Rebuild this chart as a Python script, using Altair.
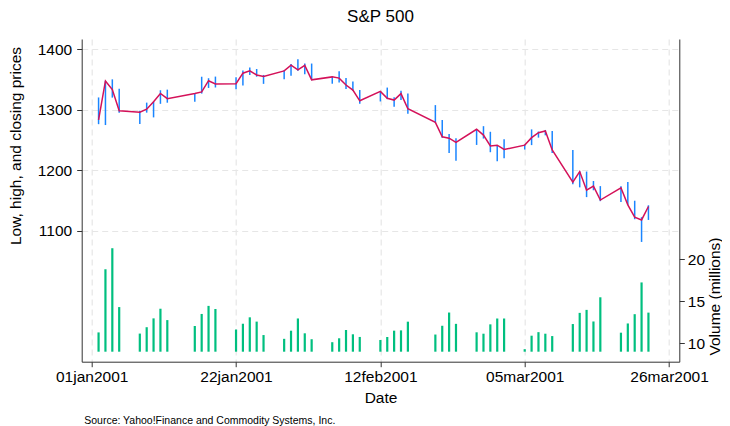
import altair as alt
import pandas as pd

dates = ["2001-01-02", "2001-01-03", "2001-01-04", "2001-01-05", "2001-01-08", "2001-01-09",
         "2001-01-10", "2001-01-11", "2001-01-12", "2001-01-16", "2001-01-17", "2001-01-18",
         "2001-01-19", "2001-01-22", "2001-01-23", "2001-01-24", "2001-01-25", "2001-01-26",
         "2001-01-29", "2001-01-30", "2001-01-31", "2001-02-01", "2001-02-02", "2001-02-05",
         "2001-02-06", "2001-02-07", "2001-02-08", "2001-02-09", "2001-02-12", "2001-02-13",
         "2001-02-14", "2001-02-15", "2001-02-16", "2001-02-20", "2001-02-21", "2001-02-22",
         "2001-02-23", "2001-02-26", "2001-02-27", "2001-02-28", "2001-03-01", "2001-03-02",
         "2001-03-05", "2001-03-06", "2001-03-07", "2001-03-08", "2001-03-09", "2001-03-12",
         "2001-03-13", "2001-03-14", "2001-03-15", "2001-03-16", "2001-03-19", "2001-03-20",
         "2001-03-21", "2001-03-22", "2001-03-23"]

high = [1320.28, 1347.76, 1350.24, 1334.77, 1298.35, 1311.72, 1313.27, 1332.19, 1333.21,
        1327.81, 1354.55, 1352.07, 1354.79, 1353.62, 1364.83, 1369.75, 1367.35, 1357.51,
        1365.54, 1375.68, 1383.37, 1376.38, 1376.38, 1354.49, 1363.55, 1352.26, 1346.62,
        1332.53, 1330.31, 1336.62, 1320.73, 1331.29, 1326.61, 1307.61, 1282.77, 1259.94,
        1252.82, 1267.65, 1272.76, 1263.47, 1241.71, 1251.01, 1242.55, 1267.42, 1263.86,
        1266.50, 1264.74, 1233.42, 1197.83, 1197.66, 1182.04, 1173.56, 1173.50, 1180.56,
        1149.39, 1122.14, 1141.83]

low = [1276.05, 1274.62, 1320.00, 1294.95, 1276.29, 1295.14, 1287.28, 1309.72, 1311.59,
       1313.33, 1326.65, 1336.00, 1336.74, 1333.84, 1340.02, 1357.28, 1354.63, 1342.75,
       1350.36, 1356.20, 1364.66, 1358.53, 1348.72, 1343.00, 1345.00, 1334.26, 1330.81,
       1309.98, 1313.64, 1317.51, 1304.72, 1315.93, 1293.18, 1278.44, 1253.79, 1228.33,
       1215.44, 1241.71, 1252.26, 1229.65, 1214.50, 1219.74, 1234.04, 1241.41, 1253.80,
       1257.60, 1228.42, 1176.78, 1171.50, 1155.35, 1166.71, 1148.64, 1147.18, 1142.19,
       1118.74, 1081.19, 1117.58]

close = [1283.27, 1347.56, 1333.34, 1298.35, 1295.86, 1300.80, 1313.27, 1326.82, 1318.32,
         1326.65, 1329.47, 1347.97, 1342.54, 1342.90, 1360.40, 1364.30, 1357.51, 1354.95,
         1364.17, 1373.73, 1366.01, 1373.47, 1349.47, 1354.31, 1352.26, 1340.89, 1332.53,
         1314.76, 1330.31, 1318.80, 1315.92, 1326.61, 1301.53, 1278.94, 1255.27, 1252.82,
         1245.86, 1267.65, 1257.94, 1239.94, 1241.23, 1234.18, 1241.41, 1253.80, 1261.89,
         1264.74, 1233.42, 1180.16, 1197.66, 1166.71, 1173.56, 1150.53, 1170.81, 1142.62,
         1122.14, 1117.58, 1139.83]

volume = [11.294, 18.807, 21.310, 14.308, 11.155, 11.913, 12.965, 14.112, 12.760,
          12.057, 13.491, 14.450, 14.078, 11.640, 12.326, 13.090, 12.580, 10.980,
          10.531, 11.498, 12.953, 11.188, 10.484, 10.130, 10.596, 11.583, 11.072,
          10.755, 10.391, 10.752, 11.503, 11.537, 12.572, 11.042, 12.085, 13.659,
          12.313, 11.308, 11.141, 12.253, 12.948, 12.949, 9.298, 10.904, 11.325,
          11.141, 10.859, 12.290, 13.619, 13.974, 12.595, 15.473, 11.262, 12.359,
          13.463, 17.240, 13.649]

volume_base = 9
tick_dates = ["2001-01-01", "2001-01-22", "2001-02-12", "2001-03-05", "2001-03-26"]
title_text = "S&P 500"
note = "Source: Yahoo!Finance and Commodity Systems, Inc."

df = pd.DataFrame({"date": dates, "high": high, "low": low, "close": close,
                   "volume": volume, "base": [volume_base] * len(dates)})

DAY = 86400000
t0 = int(pd.Timestamp("2001-01-01", tz="UTC").value // 10**6)
tick_ms = [int(pd.Timestamp(d, tz="UTC").value // 10**6) for d in tick_dates]
x_domain = [t0 - 1.455 * DAY, t0 + 85.49 * DAY]

FONT = "Liberation Sans"
BLUE = "#1a85ff"
RED = "#d41159"
GREEN = "#00bf7f"
AXC = "#333333"
GRIDC = "#e6e6e6"
W, H = 597.6, 322.7

xenc = alt.X("date:T", scale=alt.Scale(type="utc", domain=x_domain),
             axis=alt.Axis(values=tick_ms,
                           labelExpr="lower(utcFormat(datum.value, '%d%b%Y'))",
                           title="Date", grid=True, gridDash=[6, 4], gridColor=GRIDC,
                           gridWidth=1.2, tickSize=5, labelPadding=3,
                           titleY=40.5, titleBaseline="alphabetic",
                           labelFlush=False))

yprice = alt.Y("high:Q", scale=alt.Scale(domain=[883, 1417], nice=False, zero=False),
               axis=alt.Axis(orient="left", values=[1100, 1200, 1300, 1400], format="d",
                             title="Low, high, and closing prices", grid=True,
                             gridDash=[6, 4], gridColor=GRIDC, gridWidth=1.2,
                             tickSize=5, labelPadding=5,
                             titleAngle=270, titleX=-66.5, titleY=106.5,
                             titleAlign="center", titleBaseline="middle"))

spikes = alt.Chart(df).mark_rule(color=BLUE, strokeWidth=1.5).encode(
    x=xenc, y=yprice, y2="low:Q")

line = alt.Chart(df).mark_line(color=RED, strokeWidth=1.5).encode(
    x=alt.X("date:T"), y=alt.Y("close:Q"))

price = alt.layer(spikes, line)

vol = alt.Chart(df).mark_rule(color=GREEN, strokeWidth=2.2).encode(
    x=alt.X("date:T"),
    y=alt.Y("volume:Q", scale=alt.Scale(domain=[7.81, 46.2], nice=False, zero=False),
            axis=alt.Axis(orient="right", values=[10, 15, 20], format="d",
                          title="Volume (millions)",
                          grid=False, tickSize=5, labelPadding=3,
                          titleAngle=270, titleX=35, titleY=257,
                          titleAlign="center", titleBaseline="middle")),
    y2="base:Q")

text_df = pd.DataFrame({"t": [title_text, note], "kind": ["title", "note"]})

title_mark = alt.Chart(text_df).transform_filter(alt.datum.kind == "title").mark_text(
    align="center", baseline="alphabetic", fontSize=17, font=FONT, color="#000000"
).encode(text="t:N", x=alt.value(W / 2), y=alt.value(-16.7))

note_mark = alt.Chart(text_df).transform_filter(alt.datum.kind == "note").mark_text(
    align="left", baseline="alphabetic", fontSize=10.5, font=FONT, color="#000000"
).encode(text="t:N", x=alt.value(2.5), y=alt.value(384.5))

chart = alt.layer(price, vol, title_mark, note_mark).resolve_scale(y="independent").properties(
    width=W, height=H,
    autosize=alt.AutoSizeParams(type="none"),
    padding={"left": 73.7, "top": 31, "right": 42.7, "bottom": 64.3},
    background="white",
).configure_view(stroke="transparent").configure_axis(
    labelFont=FONT, titleFont=FONT, labelFontSize=15.5, titleFontSize=15.5,
    labelColor="#000000", titleColor="#000000", titleFontWeight="normal",
    domainColor=AXC, tickColor=AXC, domainWidth=1, tickWidth=1,
)

chart.save("out.html", embed_options={"renderer": "svg", "actions": False})
